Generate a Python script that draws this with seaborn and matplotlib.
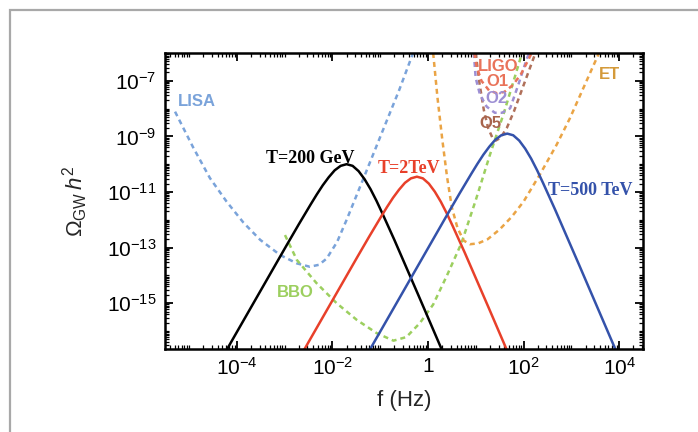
import numpy as np
import seaborn as sns
import matplotlib.pyplot as plt
from matplotlib.patches import Rectangle
from matplotlib.ticker import LogLocator, NullFormatter, FixedLocator, FixedFormatter

sns.set_theme(style="ticks")
plt.rcParams['font.family'] = ['Liberation Sans', 'DejaVu Sans']
plt.rcParams['mathtext.fontset'] = 'custom'
plt.rcParams['mathtext.rm'] = 'Liberation Sans'
plt.rcParams['mathtext.it'] = 'Liberation Sans:italic'
plt.rcParams['mathtext.bf'] = 'Liberation Sans:bold'

# 读图得到的数据 (log10 f, log10 Omega h^2)
# 相变引力波谱 (实线)
black_logf = [-4.70, -4.20, -3.70, -3.20, -2.95, -2.70, -2.45, -2.325, -2.20, -2.075, -1.95, -1.825, -1.70,
              -1.575, -1.45, -1.325, -1.20, -1.075, -0.95, -0.70, -0.45, -0.20, 0.05, 0.30, 0.80]
black_logo = [-18.15, -16.65, -15.15, -13.65, -12.90, -12.16, -11.44, -11.09, -10.76, -10.47, -10.22, -10.06, -10.00,
              -10.06, -10.25, -10.54, -10.90, -11.32, -11.78, -12.73, -13.72, -14.71, -15.71, -16.71, -18.71]

red_logf = [-3.23, -2.73, -2.23, -1.73, -1.48, -1.23, -0.98, -0.855, -0.73, -0.605, -0.48, -0.355, -0.23,
            -0.105, 0.02, 0.145, 0.27, 0.395, 0.52, 0.77, 1.02, 1.27, 1.52, 1.77, 2.27]
red_logo = [-18.60, -17.10, -15.60, -14.10, -13.35, -12.61, -11.89, -11.54, -11.21, -10.92, -10.67, -10.51, -10.45,
            -10.51, -10.70, -10.99, -11.35, -11.77, -12.23, -13.18, -14.17, -15.16, -16.16, -17.16, -19.16]

blue_logf = [-1.34, -0.84, -0.34, 0.16, 0.41, 0.66, 0.91, 1.035, 1.16, 1.285, 1.41, 1.535, 1.66,
             1.785, 1.91, 2.035, 2.16, 2.285, 2.41, 2.66, 2.91, 3.16, 3.41, 3.66, 4.16]
blue_logo = [-17.05, -15.55, -14.05, -12.55, -11.80, -11.06, -10.34, -9.99, -9.66, -9.37, -9.12, -8.96, -8.90,
             -8.96, -9.15, -9.44, -9.80, -10.22, -10.68, -11.63, -12.62, -13.61, -14.61, -15.61, -17.61]

# 探测器灵敏度曲线 (虚线)
lisa_logf = [-5.29, -4.91, -4.56, -4.21, -3.86, -3.51, -3.09, -2.74, -2.47, -2.28, -2.12, -1.90, -1.70, -1.31, -0.93, -0.60, -0.31]
lisa_logo = [-8.11, -9.40, -10.50, -11.35, -12.10, -12.72, -13.27, -13.57, -13.69, -13.62, -13.40, -12.80, -12.00, -10.35, -8.73, -7.33, -6.00]

bbo_logf = [-2.99, -2.74, -2.33, -1.91, -1.49, -1.07, -0.72, -0.45, -0.17, 0.11, 0.40, 0.70, 1.00, 1.30, 1.60, 1.97]
bbo_logo = [-12.55, -13.45, -14.28, -15.00, -15.60, -16.08, -16.35, -16.22, -15.72, -15.05, -14.00, -12.85, -11.30, -9.65, -8.10, -6.00]

et_logf = [0.11, 0.20, 0.30, 0.40, 0.50, 0.62, 0.75, 0.88, 1.05, 1.25, 1.50, 1.75, 2.00, 2.35, 2.69, 2.97, 3.25, 3.58]
et_logo = [-6.00, -7.60, -9.10, -10.45, -11.55, -12.30, -12.75, -12.88, -12.85, -12.70, -12.35, -11.90, -11.35, -10.35, -9.31, -8.35, -7.27, -6.00]

o1_logf = [0.97, 1.02, 1.12, 1.28, 1.45, 1.60, 1.78, 1.95, 2.10, 2.17]
o1_logo = [-6.00, -6.50, -7.00, -7.35, -7.45, -7.40, -7.15, -6.75, -6.25, -6.00]

o2_logf = [0.96, 1.00, 1.09, 1.23, 1.40, 1.55, 1.72, 1.89, 2.07, 2.12]
o2_logo = [-6.00, -6.90, -7.50, -7.93, -8.15, -8.15, -7.99, -7.15, -6.20, -6.00]

o5_logf = [1.00, 1.08, 1.17, 1.26, 1.35, 1.42, 1.52, 1.65, 1.80, 1.95, 2.10, 2.25]
o5_logo = [-6.00, -7.10, -8.05, -8.70, -9.05, -9.15, -9.05, -8.70, -8.10, -7.40, -6.70, -6.00]

x_ticks = [1e-4, 1e-2, 1, 1e2, 1e4]
x_ticklabels = ['$10^{-4}$', '$10^{-2}$', '$1$', '$10^{2}$', '$10^{4}$']
y_ticks = [1e-15, 1e-13, 1e-11, 1e-9, 1e-7]
y_ticklabels = ['$10^{-15}$', '$10^{-13}$', '$10^{-11}$', '$10^{-9}$', '$10^{-7}$']

fig = plt.figure(figsize=(6.98, 4.32), dpi=100)
ax = fig.add_axes([0.2364, 0.1921, 0.6848, 0.6852])

dash = (0, (2.0, 1.6))
dashed = [
    (lisa_logf, lisa_logo, '#7aa3da'),
    (bbo_logf, bbo_logo, '#9ccf5f'),
    (et_logf, et_logo, '#eaa445'),
    (o5_logf, o5_logo, '#b0705a'),
    (o2_logf, o2_logo, '#9d8fd4'),
    (o1_logf, o1_logo, '#e9735a'),
]
for lf, lo, c in dashed:
    sns.lineplot(x=10 ** np.array(lf), y=10 ** np.array(lo), ax=ax, color=c,
                 linestyle=dash, linewidth=1.8, estimator=None, errorbar=None)

solid = [
    (black_logf, black_logo, 'black'),
    (red_logf, red_logo, '#e8402a'),
    (blue_logf, blue_logo, '#3452aa'),
]
for lf, lo, c in solid:
    sns.lineplot(x=10 ** np.array(lf), y=10 ** np.array(lo), ax=ax, color=c,
                 linewidth=1.8, estimator=None, errorbar=None)

ax.set_xscale('log')
ax.set_yscale('log')
ax.set_xlim(10 ** -5.5, 10 ** 4.5)
ax.set_ylim(10 ** -16.65, 1e-6)

ax.xaxis.set_major_locator(FixedLocator(x_ticks))
ax.xaxis.set_major_formatter(FixedFormatter(x_ticklabels))
ax.yaxis.set_major_locator(FixedLocator(y_ticks))
ax.yaxis.set_major_formatter(FixedFormatter(y_ticklabels))
for a in (ax.xaxis, ax.yaxis):
    a.set_minor_locator(LogLocator(base=10, subs=np.arange(1, 10), numticks=100))
    a.set_minor_formatter(NullFormatter())

ax.tick_params(which='both', direction='in', top=True, right=True, colors='black')
ax.tick_params(which='major', length=6, width=1.3, labelsize=15, pad=6)
ax.tick_params(which='minor', length=3, width=0.9)
for s in ax.spines.values():
    s.set_linewidth(1.8)
    s.set_color('black')

ax.set_xlabel('f (Hz)', fontsize=16, labelpad=8)
ax.set_ylabel(r'$\Omega_{\rm GW}\,h^2$', fontsize=16, labelpad=12)

# 标注
serif = dict(family='Liberation Serif', fontweight='bold', fontsize=13, ha='center', va='center')
ax.text(10 ** -2.47, 10 ** -9.78, 'T=200 GeV', color='black', **serif)
ax.text(10 ** -0.40, 10 ** -10.14, 'T=2TeV', color='#e8402a', **serif)
ax.text(10 ** 3.39, 10 ** -10.93, 'T=500 TeV', color='#3452aa', **serif)

sans = dict(fontweight='bold', fontsize=12, ha='center', va='center')
ax.text(10 ** -4.84, 10 ** -7.76, 'LISA', color='#7aa3da', **sans)
ax.text(10 ** -2.77, 10 ** -14.63, 'BBO', color='#9ccf5f', **sans)
ax.text(10 ** 1.48, 10 ** -6.50, 'LIGO', color='#e9735a', **sans)
ax.text(10 ** 1.46, 10 ** -7.01, 'O1', color='#e9735a', **sans)
ax.text(10 ** 1.435, 10 ** -7.65, 'O2', color='#9d8fd4', **sans)
ax.text(10 ** 1.31, 10 ** -8.55, 'O5', color='#a8644c', **sans)
ax.text(10 ** 3.79, 10 ** -6.79, 'ET', color='#d49a3a', **sans)

# 外框
fig.add_artist(Rectangle((10 / 698, -0.5), 2, 0.9769 + 0.5, transform=fig.transFigure,
                         fill=False, edgecolor='#a8a8a8', linewidth=1.6))

fig.savefig('out.png', dpi=100)
